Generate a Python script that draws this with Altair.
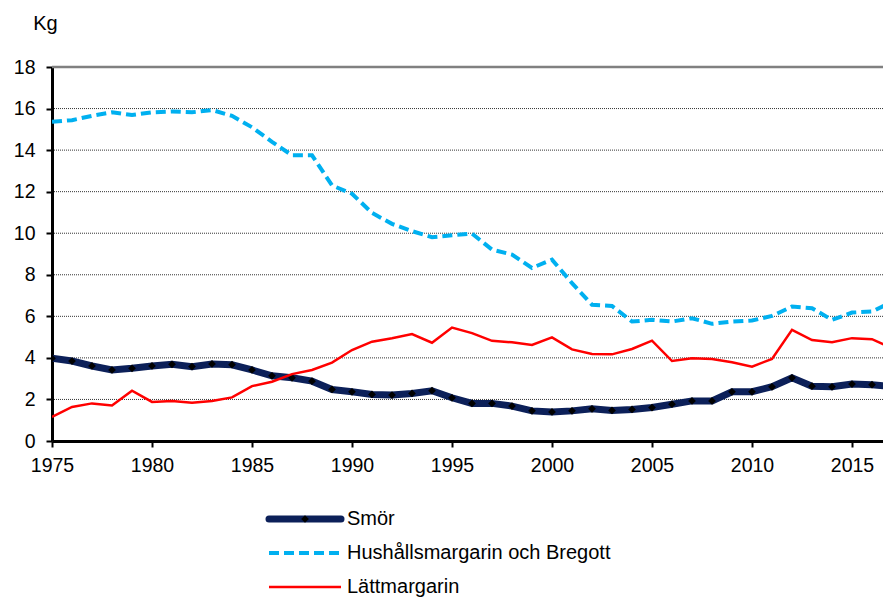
import altair as alt
import pandas as pd

years = list(range(1975, 2018))
smor = [3.98, 3.85, 3.61, 3.42, 3.50, 3.61, 3.69, 3.58, 3.71, 3.67,
        3.42, 3.14, 3.04, 2.88, 2.48, 2.37, 2.24, 2.21, 2.29, 2.42,
        2.08, 1.81, 1.81, 1.68, 1.45, 1.40, 1.45, 1.55, 1.47, 1.52,
        1.61, 1.77, 1.93, 1.93, 2.37, 2.37, 2.61, 3.04, 2.64, 2.61,
        2.74, 2.71, 2.62]
hush = [15.36, 15.44, 15.65, 15.82, 15.69, 15.82, 15.86, 15.82, 15.93, 15.65,
        15.10, 14.40, 13.75, 13.75, 12.30, 11.90, 10.98, 10.45, 10.10, 9.81,
        9.90, 9.98, 9.21, 8.97, 8.33, 8.73, 7.60, 6.56, 6.50, 5.75,
        5.83, 5.75, 5.91, 5.64, 5.75, 5.80, 6.02, 6.47, 6.39, 5.83,
        6.18, 6.23, 6.70]
latt = [1.16, 1.64, 1.81, 1.71, 2.42, 1.88, 1.93, 1.84, 1.93, 2.10,
        2.64, 2.85, 3.22, 3.42, 3.77, 4.38, 4.78, 4.95, 5.15, 4.73,
        5.46, 5.19, 4.82, 4.75, 4.62, 4.99, 4.41, 4.19, 4.17, 4.43,
        4.83, 3.85, 3.98, 3.95, 3.79, 3.58, 3.95, 5.35, 4.86, 4.75,
        4.95, 4.90, 4.47]
series_names = ["Smör", "Hushållsmargarin och Bregott", "Lättmargarin"]
grid_values = [2, 4, 6, 8, 10, 12, 14, 16]
top_value = [18]
x_ticks = [1975, 1980, 1985, 1990, 1995, 2000, 2005, 2010, 2015]
y_ticks = list(range(0, 19))

W, H = 831, 374
FONT = "Liberation Sans"
NAVY = "#0c2059"
BLUE = "#00b0f0"
RED = "#ff0000"

df = pd.DataFrame({"year": years, "smor": smor, "hush": hush, "latt": latt})

xs = alt.Scale(domain=[1975, 2016.55], nice=False, zero=False)
ys = alt.Scale(domain=[0, 18], nice=False, zero=True)

x_axis = alt.Axis(values=x_ticks, format="d", title=None, grid=False,
                  domainColor="black", domainWidth=3, tickColor="black",
                  tickWidth=2, tickSize=6, labelFont=FONT, labelFontSize=19.5,
                  labelColor="black", labelPadding=9, labelFlush=False)
y_axis = alt.Axis(values=y_ticks, labelExpr="datum.value % 2 == 0 ? datum.label : ''",
                  title="Kg", titleAngle=0, titleX=-7, titleY=-37.5, titleAlign="center",
                  titleBaseline="alphabetic", titleFont=FONT, titleFontSize=20,
                  titleFontWeight="normal", titleColor="black", grid=False,
                  domainColor="black", domainWidth=3, tickColor="black",
                  tickWidth=2, tickSize=6, labelFont=FONT, labelFontSize=19.5,
                  labelColor="black", labelPadding=11)

X = alt.X("year:Q", scale=xs, axis=x_axis)

grid = alt.Chart(pd.DataFrame({"v": grid_values})).mark_rule(
    color="black", strokeDash=[1, 1], strokeWidth=1, opacity=0.8
).encode(y=alt.Y("v:Q", scale=ys, axis=y_axis))
top = alt.Chart(pd.DataFrame({"v": top_value})).mark_rule(
    color="#808080", strokeWidth=2.5
).encode(y=alt.Y("v:Q", scale=ys))

base = alt.Chart(df)
smor_line = base.mark_line(color=NAVY, strokeWidth=7, clip=True).encode(
    x=X, y=alt.Y("smor:Q", scale=ys))
smor_pts = base.mark_point(shape="diamond", filled=True, color="black", size=60,
                           opacity=1, clip=True).encode(
    x=X, y=alt.Y("smor:Q", scale=ys))
hush_line = base.mark_line(color=BLUE, strokeWidth=4, strokeDash=[10, 5], clip=True).encode(
    x=X, y=alt.Y("hush:Q", scale=ys))
latt_line = base.mark_line(color=RED, strokeWidth=2.5, clip=True).encode(
    x=X, y=alt.Y("latt:Q", scale=ys))

# legend
one = pd.DataFrame({"a": [0]})
leg_y = [452, 486, 520]
lx1, lx2, ltx = 217, 289, 295
leg_smor = alt.Chart(one).mark_rule(color=NAVY, strokeWidth=7, strokeCap="round").encode(
    x=alt.value(lx1), x2=alt.value(lx2), y=alt.value(leg_y[0]))
leg_smor_pt = alt.Chart(one).mark_point(shape="diamond", filled=True, color="black",
                                        size=60, opacity=1).encode(
    x=alt.value((lx1 + lx2) / 2), y=alt.value(leg_y[0]))
leg_hush = alt.Chart(one).mark_rule(color=BLUE, strokeWidth=4, strokeDash=[10, 5]).encode(
    x=alt.value(lx1), x2=alt.value(lx2), y=alt.value(leg_y[1]))
leg_latt = alt.Chart(one).mark_rule(color=RED, strokeWidth=2.5).encode(
    x=alt.value(lx1), x2=alt.value(lx2), y=alt.value(leg_y[2]))
leg_text = alt.Chart(pd.DataFrame({"name": series_names, "yy": leg_y})).mark_text(
    align="left", baseline="middle", font=FONT, fontSize=20, color="black"
).encode(x=alt.value(ltx), y=alt.Y("yy:Q", scale=None), text="name:N")

chart = alt.layer(
    grid, top, smor_line, smor_pts, hush_line, latt_line,
    leg_smor, leg_smor_pt, leg_hush, leg_latt, leg_text
).properties(
    width=W, height=H,
    autosize=alt.AutoSizeParams(type="none"),
    padding={"left": 44, "top": 59, "right": 0, "bottom": 160},
).configure_view(stroke=None)

chart.save("out.html", embed_options={"renderer": "svg", "actions": False})
